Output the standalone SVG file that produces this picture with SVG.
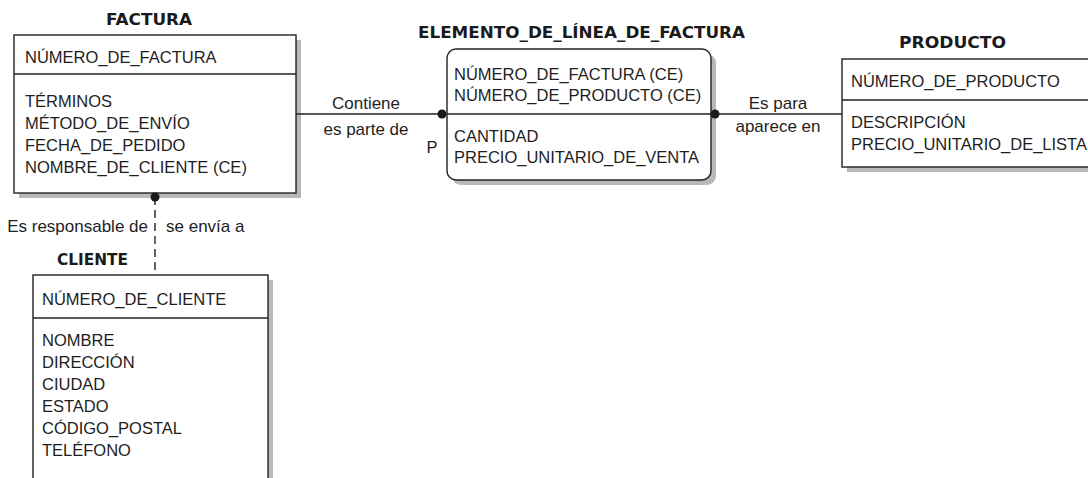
<svg xmlns="http://www.w3.org/2000/svg" width="1088" height="478" viewBox="0 0 1088 478">
<style>
.box{fill:#fff;stroke:#222;stroke-width:1.4}
.sh{fill:#b8b8b8}
.div{stroke:#222;stroke-width:1.4}
.t{font-family:"Liberation Sans",Arial,sans-serif;font-size:16.5px;fill:#1e1e1e}
.lbl{font-family:"Liberation Sans",Arial,sans-serif;font-size:17px;fill:#1e1e1e}
.ttl{font-family:"DejaVu Sans","Liberation Sans",sans-serif;font-size:16.5px;font-weight:700;fill:#1a1a1a}
.ln{stroke:#222;stroke-width:1.4;fill:none}
.dot{fill:#1a1a1a}
</style>
<rect width="1088" height="478" fill="#fff"/>
<g id="factura">
<text class="ttl" x="106" y="25" textLength="86" lengthAdjust="spacingAndGlyphs">FACTURA</text>
<rect class="sh" x="19" y="40" width="282" height="158"/>
<rect class="box" x="14" y="35" width="282" height="158"/>
<line class="div" x1="14" y1="74" x2="296" y2="74"/>
<text class="t" x="25" y="63">NÚMERO_DE_FACTURA</text>
<text class="t" x="25" y="107">TÉRMINOS</text>
<text class="t" x="25" y="129">MÉTODO_DE_ENVÍO</text>
<text class="t" x="25" y="151">FECHA_DE_PEDIDO</text>
<text class="t" x="25" y="173">NOMBRE_DE_CLIENTE (CE)</text>
</g>
<g id="elemento">
<text class="ttl" x="418" y="38" textLength="327" lengthAdjust="spacingAndGlyphs">ELEMENTO_DE_LÍNEA_DE_FACTURA</text>
<rect class="sh" x="452" y="54" width="264" height="131" rx="9"/>
<rect class="box" x="447" y="49" width="264" height="131" rx="9"/>
<line class="div" x1="447" y1="114" x2="711" y2="114"/>
<text class="t" x="454" y="80">NÚMERO_DE_FACTURA (CE)</text>
<text class="t" x="454" y="101">NÚMERO_DE_PRODUCTO (CE)</text>
<text class="t" x="454" y="142">CANTIDAD</text>
<text class="t" x="454" y="163">PRECIO_UNITARIO_DE_VENTA</text>
</g>
<g id="producto">
<text class="ttl" x="899" y="48" textLength="107" lengthAdjust="spacingAndGlyphs">PRODUCTO</text>
<rect class="sh" x="847" y="64" width="260" height="108"/>
<rect class="box" x="842" y="59" width="260" height="108"/>
<line class="div" x1="842" y1="100" x2="1102" y2="100"/>
<text class="t" x="851" y="87">NÚMERO_DE_PRODUCTO</text>
<text class="t" x="851" y="128">DESCRIPCIÓN</text>
<text class="t" x="851" y="150">PRECIO_UNITARIO_DE_LISTA</text>
</g>
<g id="cliente">
<text class="ttl" x="57" y="265" textLength="71" lengthAdjust="spacingAndGlyphs">CLIENTE</text>
<rect class="sh" x="38" y="280" width="235" height="220"/>
<rect class="box" x="33" y="275" width="235" height="220"/>
<line class="div" x1="33" y1="318" x2="268" y2="318"/>
<text class="t" x="42" y="305">NÚMERO_DE_CLIENTE</text>
<text class="t" x="42" y="346">NOMBRE</text>
<text class="t" x="42" y="368">DIRECCIÓN</text>
<text class="t" x="42" y="390">CIUDAD</text>
<text class="t" x="42" y="412">ESTADO</text>
<text class="t" x="42" y="434">CÓDIGO_POSTAL</text>
<text class="t" x="42" y="456">TELÉFONO</text>
</g>
<g id="connectors">
<line class="ln" x1="296" y1="114" x2="442" y2="114"/>
<circle class="dot" cx="442" cy="114" r="4.5"/>
<text class="lbl" x="366" y="109" text-anchor="middle">Contiene</text>
<text class="lbl" x="366" y="135" text-anchor="middle">es parte de</text>
<text class="t" x="432" y="153" text-anchor="middle">P</text>
<line class="ln" x1="715" y1="114" x2="842" y2="114"/>
<circle class="dot" cx="715" cy="114" r="4.5"/>
<text class="lbl" x="778" y="109" text-anchor="middle">Es para</text>
<text class="lbl" x="778" y="132" text-anchor="middle">aparece en</text>
<line class="ln" x1="155" y1="197" x2="155" y2="275" stroke-dasharray="8 5"/>
<circle class="dot" cx="155" cy="197" r="4.5"/>
<text class="lbl" x="148" y="232" text-anchor="end">Es responsable de</text>
<text class="lbl" x="166" y="232">se envía a</text>
</g>
</svg>
